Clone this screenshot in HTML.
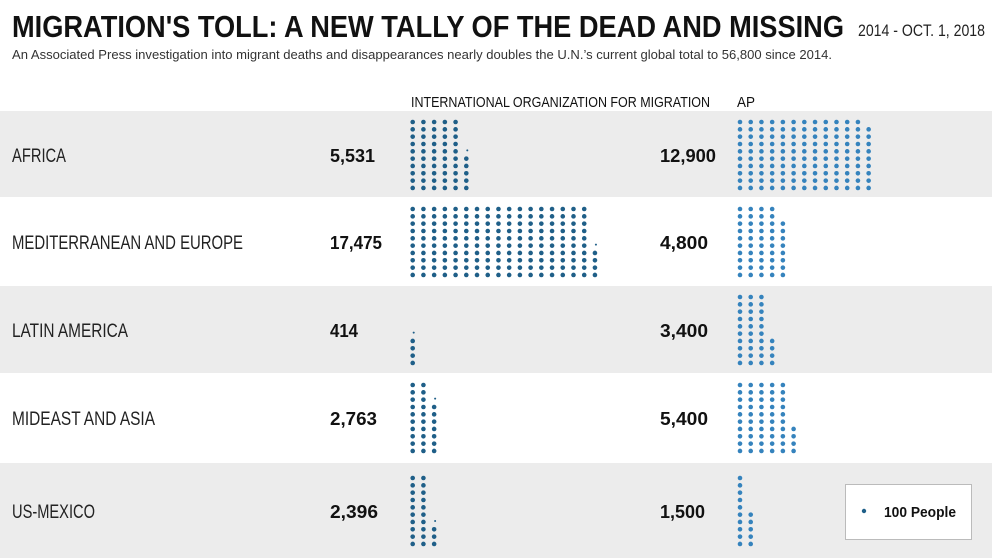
<!DOCTYPE html>
<html><head><meta charset="utf-8"><style>
html,body{margin:0;padding:0;background:#fff;}
svg{display:block;font-family:"Liberation Sans",sans-serif;}
</style></head><body>
<svg id="s" width="992" height="558" viewBox="0 0 992 558" xmlns="http://www.w3.org/2000/svg">
<rect width="992" height="558" fill="#fff"/>
<rect x="0" y="111" width="992" height="86" fill="#ececec"/>
<rect x="0" y="286" width="992" height="87" fill="#ececec"/>
<rect x="0" y="463" width="992" height="95" fill="#ececec"/>
<text x="12" y="37" font-size="31" font-weight="bold" fill="#111" textLength="832" lengthAdjust="spacingAndGlyphs">MIGRATION'S TOLL: A NEW TALLY OF THE DEAD AND MISSING</text>
<text x="858" y="36" font-size="17" fill="#222" textLength="127" lengthAdjust="spacingAndGlyphs">2014 - OCT. 1, 2018</text>
<text x="12" y="59" font-size="13" fill="#333" textLength="820" lengthAdjust="spacingAndGlyphs">An Associated Press investigation into migrant deaths and disappearances nearly doubles the U.N.’s current global total to 56,800 since 2014.</text>
<text x="411" y="107" font-size="15" fill="#111" textLength="299" lengthAdjust="spacingAndGlyphs">INTERNATIONAL ORGANIZATION FOR MIGRATION</text>
<text x="737" y="107" font-size="15" fill="#111" textLength="18" lengthAdjust="spacingAndGlyphs">AP</text>
<g font-size="19" fill="#222">
<text x="12" y="162" textLength="54" lengthAdjust="spacingAndGlyphs">AFRICA</text>
<text x="12" y="249" textLength="231" lengthAdjust="spacingAndGlyphs">MEDITERRANEAN AND EUROPE</text>
<text x="12" y="337" textLength="116" lengthAdjust="spacingAndGlyphs">LATIN AMERICA</text>
<text x="12" y="425" textLength="143" lengthAdjust="spacingAndGlyphs">MIDEAST AND ASIA</text>
<text x="12" y="518" textLength="83" lengthAdjust="spacingAndGlyphs">US-MEXICO</text>
</g>
<g font-size="18" font-weight="bold" fill="#111">
<text x="330" y="162" textLength="45" lengthAdjust="spacingAndGlyphs">5,531</text>
<text x="330" y="249" textLength="52" lengthAdjust="spacingAndGlyphs">17,475</text>
<text x="330" y="337" textLength="28" lengthAdjust="spacingAndGlyphs">414</text>
<text x="330" y="425" textLength="47" lengthAdjust="spacingAndGlyphs">2,763</text>
<text x="330" y="518" textLength="48" lengthAdjust="spacingAndGlyphs">2,396</text>
<text x="660" y="162" textLength="56" lengthAdjust="spacingAndGlyphs">12,900</text>
<text x="660" y="249" textLength="48" lengthAdjust="spacingAndGlyphs">4,800</text>
<text x="660" y="337" textLength="48" lengthAdjust="spacingAndGlyphs">3,400</text>
<text x="660" y="425" textLength="48" lengthAdjust="spacingAndGlyphs">5,400</text>
<text x="660" y="518" textLength="45" lengthAdjust="spacingAndGlyphs">1,500</text>
</g>
<rect x="845.5" y="484.5" width="126" height="55" fill="#fff" stroke="#bbb"/>
<circle cx="864" cy="511" r="2.2" fill="#1f5f88"/>
<text x="884" y="517" font-size="15" font-weight="bold" fill="#111" textLength="72" lengthAdjust="spacingAndGlyphs">100 People</text>
<g id="dots"></g>
</svg>
<script>
var g=document.getElementById('dots'),ns='http://www.w3.org/2000/svg';
function c(x,y,r,f){var e=document.createElementNS(ns,'circle');e.setAttribute('cx',x);e.setAttribute('cy',y);e.setAttribute('r',r);e.setAttribute('fill',f);g.appendChild(e);}
function draw(x0,top,val,f){var n=Math.floor(val),fr=val-n,dx=10.72,dy=7.33;
for(var i=0;i<n;i++){var col=Math.floor(i/10),row=9-(i%10);c(x0+col*dx,top+row*dy,2.3,f);}
if(fr>0.05){var col=Math.floor(n/10),row=9-(n%10);c(x0+col*dx+1,top+row*dy-1,1,f);}}
var tops=[122,209,297,385,478];
var iom=[55.31,174.75,4.14,27.63,23.96],ap=[129,48,34,54,15];
for(var k=0;k<5;k++){draw(412.7,tops[k],iom[k],'#1f5f88');draw(740,tops[k],ap[k],'#3583bd');}
</script>
</body></html>
